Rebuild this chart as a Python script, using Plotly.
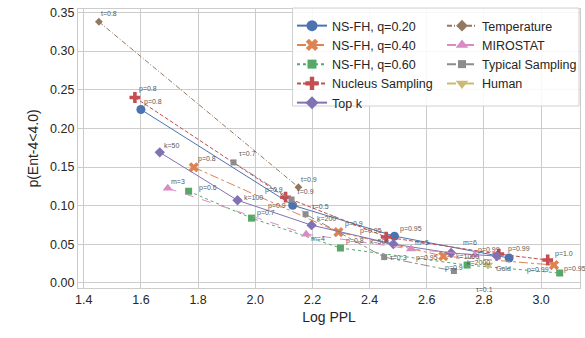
import plotly.graph_objects as go

# ---------------- data ----------------
ns20_x = [1.600, 2.131, 2.487, 2.888]
ns20_y = [0.2245, 0.1006, 0.0606, 0.0323]
ns20_lbl = ["p=0.8", "p=0.9", "p=0.95", "p=0.99"]

ns40_x = [1.785, 2.291, 2.658, 3.045]
ns40_y = [0.1497, 0.0658, 0.0348, 0.0232]
ns40_lbl = ["p=0.8", "p=0.9", "p=0.95", "p=0.99"]

ns60_x = [1.767, 1.987, 2.298, 2.741, 3.065]
ns60_y = [0.1187, 0.0839, 0.0452, 0.0232, 0.0129]
ns60_lbl = ["p=0.6", "p=0.7", "p=0.8", "p=0.9", "p=0.95"]

nuc_x = [1.579, 2.106, 2.458, 2.852, 3.023]
nuc_y = [0.240, 0.111, 0.0594, 0.0374, 0.0297]
nuc_lbl = ["p=0.8", "p=0.9", "p=0.95", "p=0.99", "p=1.0"]

topk_x = [1.666, 1.938, 2.197, 2.483, 2.685, 2.845]
topk_y = [0.169, 0.107, 0.0748, 0.0503, 0.0387, 0.0348]
topk_lbl = ["k=50", "k=100", "k=200", "k=500", "k=1000", "k=2000"]

temp_x = [1.453, 2.151]
temp_y = [0.338, 0.124]
temp_lbl = ["t=0.8", "t=0.9"]

miro_x = [1.694, 2.178, 2.545, 2.768]
miro_y = [0.1226, 0.0632, 0.0439, 0.0361]
miro_lbl = ["m=3", "m=4", "m=5", "m=6"]

typ_x = [1.924, 2.127, 2.176, 2.451, 2.695]
typ_y = [0.156, 0.108, 0.089, 0.0335, 0.0155]
typ_lbl = ["τ=0.7", "τ=0.9", "τ=0.5", "τ=0.3", "τ=0.1"]

human_x = [2.814]
human_y = [0.0232]
human_lbl = ["Gold"]

x_ticks = [1.4, 1.6, 1.8, 2.0, 2.2, 2.4, 2.6, 2.8, 3.0]
y_ticks = [0.00, 0.05, 0.10, 0.15, 0.20, 0.25, 0.30, 0.35]

# ---------------- label placement (styles, not data) ----------------
D = ("left", "bottom", 1, 1)
off_ns20 = [D, ("right", "middle", -5, -1), ("left", "bottom", 4, 1), ("left", "bottom", -3, 3)]
off_ns40 = [("left", "bottom", 2, 2.5), ("left", "bottom", 5, 2.5), ("right", "middle", -3, -2), ("right", "middle", -3, -5)]
off_ns60 = [("left", "middle", 8, 3), ("left", "bottom", 3, -1), ("left", "bottom", 4, 1.5), ("right", "middle", -2, -3), ("left", "middle", 2, 4)]
off_nuc = [("left", "bottom", 2, 2), ("right", "bottom", -1, 1.5), ("right", "bottom", -2, 0.5), ("right", "bottom", 3, -1.5), ("left", "bottom", 5, 0)]
off_topk = [("left", "bottom", 2, 1.5), ("left", "middle", 4, 3), ("left", "bottom", 3, 1.5), ("right", "middle", -2, 3), ("left", "middle", 3, -3), ("right", "middle", -5, -6)]
off_temp = [("left", "bottom", 0, 2.5), ("left", "bottom", 1, 2.5)]
off_miro = [("left", "bottom", 1, 1.5), ("left", "middle", 3, -4), ("left", "bottom", 2, 1.5), ("center", "middle", -5, 13)]
off_typ = [("left", "bottom", 3, 3.5), ("left", "bottom", 3, 2.5), ("left", "bottom", 4, 2.5), ("left", "middle", 4, 0), ("left", "middle", 20, -18)]
off_human = [("left", "middle", 6, -3)]

FONT = "Liberation Sans, Arial, sans-serif"
fig = go.Figure()
annotations = []


def add_series(name, xs, ys, lbls, offs, color, dash, symbol, msize, lsize, legend):
    fig.add_trace(go.Scatter(
        x=xs, y=ys, mode="lines+markers", showlegend=False, name=name,
        line=dict(color=color, width=1, dash=dash),
        marker=dict(color=color, size=msize, symbol=symbol, line=dict(width=0)),
    ))
    fig.add_trace(go.Scatter(
        x=[None], y=[None], mode="lines+markers", name=name, legend=legend,
        line=dict(color=color, width=2, dash=dash),
        marker=dict(color=color, size=lsize, symbol=symbol, line=dict(width=0)),
    ))
    for xv, yv, t, o in zip(xs, ys, lbls, offs):
        annotations.append(dict(
            x=xv, y=yv, text=t, showarrow=False, xanchor=o[0], yanchor=o[1],
            xshift=o[2], yshift=o[3], font=dict(size=7, color="#595959", family=FONT),
        ))


add_series("NS-FH, q=0.20", ns20_x, ns20_y, ns20_lbl, off_ns20, "#4C72B0", "solid", "circle", 9, 11, "legend")
add_series("NS-FH, q=0.40", ns40_x, ns40_y, ns40_lbl, off_ns40, "#DD8452", "dashdot", "x", 9, 11, "legend")
add_series("NS-FH, q=0.60", ns60_x, ns60_y, ns60_lbl, off_ns60, "#55A868", "dot", "square", 7, 9, "legend")
add_series("Nucleus Sampling", nuc_x, nuc_y, nuc_lbl, off_nuc, "#C44E52", "4px,2px", "cross", 9, 11, "legend")
add_series("Top k", topk_x, topk_y, topk_lbl, off_topk, "#8172B3", "solid", "diamond", 8, 10, "legend")
add_series("Temperature", temp_x, temp_y, temp_lbl, off_temp, "#937860", "5px,2px,1px,2px", "diamond", 6, 9, "legend2")
add_series("MIROSTAT", miro_x, miro_y, miro_lbl, off_miro, "#DA8BC3", "dash", "triangle-up", 9, 11, "legend2")
add_series("Typical Sampling", typ_x, typ_y, typ_lbl, off_typ, "#8C8C8C", "dashdot", "square", 6, 8, "legend2")
add_series("Human", human_x, human_y, human_lbl, off_human, "#CCB974", "dash", "triangle-down", 9, 11, "legend2")

L, R, T, B = 78, 4, 9, 50
W, H = 585, 338
pw, ph = W - L - R, H - T - B


def px2paper_x(p):
    return (p - L) / pw


def px2paper_y(p):
    return 1 - (p - T) / ph


axis_common = dict(
    showgrid=True, gridcolor="#cccccc", gridwidth=1, zeroline=False,
    showline=True, linecolor="#cccccc", linewidth=1.2, mirror=True,
    ticks="", tickfont=dict(size=12.5, color="#262626", family=FONT),
    title_font=dict(size=14, color="#262626", family=FONT),
)

fig.update_layout(
    width=W, height=H, margin=dict(l=L, r=R, t=T, b=B),
    paper_bgcolor="white", plot_bgcolor="white",
    font=dict(family=FONT, color="#262626"),
    xaxis=dict(range=[1.380, 3.136], tickvals=x_ticks,
               ticktext=[f"{v:.1f}" for v in x_ticks], title_text="Log PPL",
               title_standoff=6, **axis_common),
    yaxis=dict(range=[-0.0065, 0.3545], tickvals=y_ticks,
               ticktext=[f"{v:.2f}" for v in y_ticks], title_text="p(Ent-4&lt;4.0)",
               title_standoff=8, **axis_common),
    legend=dict(x=px2paper_x(292), y=px2paper_y(11), xanchor="left", yanchor="top",
                bgcolor="rgba(0,0,0,0)", borderwidth=0,
                font=dict(size=12.5, color="#262626", family=FONT), tracegroupgap=0),
    legend2=dict(x=px2paper_x(442), y=px2paper_y(11), xanchor="left", yanchor="top",
                 bgcolor="rgba(0,0,0,0)", borderwidth=0,
                 font=dict(size=12.5, color="#262626", family=FONT), tracegroupgap=0),
    shapes=[dict(type="rect", xref="paper", yref="paper",
                 x0=px2paper_x(293), x1=px2paper_x(580),
                 y0=px2paper_y(106), y1=px2paper_y(8),
                 fillcolor="rgba(255,255,255,0.85)", line=dict(color="#d0d0d0", width=1),
                 layer="above")],
    annotations=annotations,
)

fig.write_html("out.html")
